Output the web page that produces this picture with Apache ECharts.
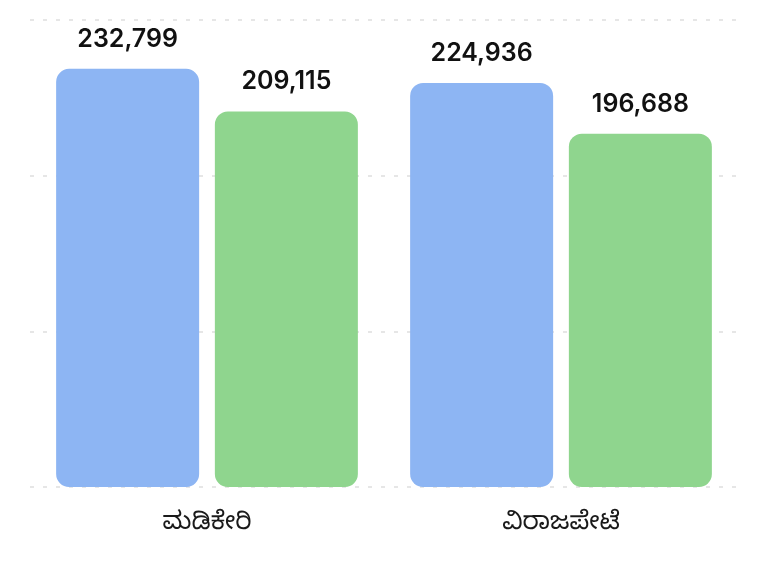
<!DOCTYPE html>
<html>
<head>
<meta charset="utf-8">
<script src="https://cdn.jsdelivr.net/npm/echarts@6/dist/echarts.min.js"></script>
<style>
html,body{margin:0;padding:0;background:#fff;}
#chart{width:768px;height:575px;}
</style>
</head>
<body>
<div id="chart"></div>
<script>
const categories = ['ಮಡಿಕೇರಿ', 'ವಿರಾಜಪೇಟೆ'];
const seriesA = [232799, 224936];
const seriesB = [209115, 196688];
const yMax = 260000;

const chart = echarts.init(document.getElementById('chart'), null, {renderer: 'canvas'});
const fmt = v => v.toLocaleString('en-US');
const labelStyle = {
  show: true,
  position: 'top',
  distance: 17,
  fontSize: 25,
  fontWeight: 600,
  color: '#111',
  fontFamily: 'Inter, "Noto Sans", sans-serif',
  formatter: p => fmt(p.value)
};
chart.setOption({
  animation: false,
  grid: {left: 30, right: 30, top: 20, bottom: 88, containLabel: false},
  xAxis: {
    type: 'category',
    data: categories,
    axisLine: {show: false},
    axisTick: {show: false},
    axisLabel: {
      fontSize: 25,
      fontWeight: 400,
      color: '#1a1a1a',
      margin: 27,
      fontFamily: '"Noto Sans Kannada", "Noto Sans", sans-serif'
    }
  },
  yAxis: {
    type: 'value',
    min: 0,
    max: yMax,
    interval: yMax / 3,
    axisLabel: {show: false},
    axisLine: {show: false},
    axisTick: {show: false},
    splitLine: {lineStyle: {color: '#dedede', type: [4, 9], width: 1.5}}
  },
  series: [
    {
      type: 'bar',
      data: seriesA,
      barWidth: 143,
      barGap: '11%',
      itemStyle: {color: '#8db5f3', borderRadius: 13},
      label: labelStyle
    },
    {
      type: 'bar',
      data: seriesB,
      barWidth: 143,
      barGap: '11%',
      itemStyle: {color: '#8fd58e', borderRadius: 13},
      label: labelStyle
    }
  ]
});
</script>
</body>
</html>
